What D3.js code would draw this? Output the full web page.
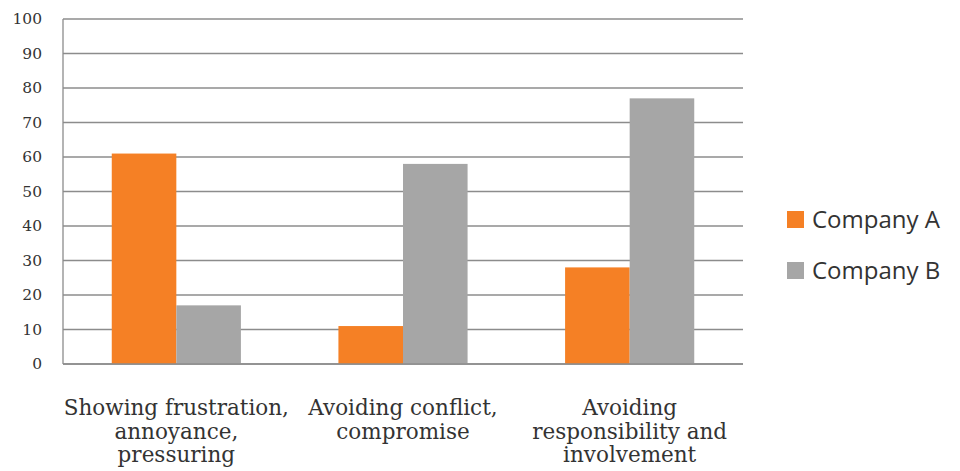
<!DOCTYPE html>
<head>
  <meta charset="utf-8">
  <script src="https://cdnjs.cloudflare.com/ajax/libs/d3/7.8.5/d3.min.js"></script>
</head>

<style>
body {
  margin: 0;
  background-color: #fff;
}
.tick-label {
  font-family: 'DejaVu Serif', serif;
  font-size: 15.5px;
  fill: #333;
}
.cat-label {
  font-family: 'DejaVu Serif', serif;
  font-size: 21.5px;
  fill: #333;
}
.legend-label {
  font-family: 'Open Sans', 'Noto Sans', sans-serif;
  font-size: 24px;
  fill: #333;
}
</style>

<body>
  <svg id='chart' width='960' height='471'></svg>
</body>

<script>

var categories = [
  ['Showing frustration,', 'annoyance,', 'pressuring'],
  ['Avoiding conflict,', 'compromise'],
  ['Avoiding', 'responsibility and', 'involvement']
];
var series = ['Company A', 'Company B'];
var company_a = [61, 11, 28];
var company_b = [17, 58, 77];
var y_ticks = [0, 10, 20, 30, 40, 50, 60, 70, 80, 90, 100];
var colours = ['#f58025', '#a6a6a6'];

var svg = d3.select('#chart');

var plot_left = 63, plot_right = 743, plot_top = 19, plot_bottom = 364;

var x0 = d3.scaleBand()
  .domain(d3.range(categories.length))
  .range([plot_left, plot_right])
  .padding(0);

// bars take ~57% of each category, gap ~150% of a bar
var x1 = d3.scaleBand()
  .domain(d3.range(series.length))
  .range([0, x0.bandwidth()])
  .paddingOuter(0.755)
  .paddingInner(0);

var y = d3.scaleLinear()
  .domain([0, 100])
  .range([plot_bottom, plot_top]);

// gridlines
svg.append('g')
  .selectAll('line')
  .data(y_ticks)
  .enter().append('line')
    .attr('x1', plot_left)
    .attr('x2', plot_right)
    .attr('y1', function(d){ return y(d) })
    .attr('y2', function(d){ return y(d) })
    .attr('stroke', '#8c8c8c')
    .attr('stroke-width', 1.3);

// y axis line
svg.append('line')
  .attr('x1', plot_left).attr('x2', plot_left)
  .attr('y1', y(0)).attr('y2', y(100))
  .attr('stroke', '#8c8c8c')
  .attr('stroke-width', 1.3);

svg.append('g')
  .selectAll('text')
  .data(y_ticks)
  .enter().append('text')
    .attr('class', 'tick-label')
    .attr('x', 42)
    .attr('y', function(d){ return y(d) })
    .attr('dy', '0.35em')
    .attr('text-anchor', 'end')
    .text(function(d){ return d });

var values = [company_a, company_b];

var groups = svg.append('g')
  .selectAll('g')
  .data(categories)
  .enter().append('g')
    .attr('transform', function(d, i){ return 'translate(' + x0(i) + ',0)' });

groups.selectAll('rect')
  .data(function(d, i){ return values.map(function(v, s){ return {s: s, v: v[i]} }) })
  .enter().append('rect')
    .attr('x', function(d){ return x1(d.s) })
    .attr('width', x1.bandwidth())
    .attr('y', function(d){ return y(d.v) })
    .attr('height', function(d){ return y(0) - y(d.v) })
    .attr('fill', function(d){ return colours[d.s] });

// redraw baseline over bars
svg.append('line')
  .attr('x1', plot_left).attr('x2', plot_right)
  .attr('y1', y(0)).attr('y2', y(0))
  .attr('stroke', '#8c8c8c')
  .attr('stroke-width', 1.5);

groups.append('text')
  .attr('class', 'cat-label')
  .attr('text-anchor', 'middle')
  .selectAll('tspan')
  .data(function(d){ return d })
  .enter().append('tspan')
    .attr('x', x0.bandwidth() / 2)
    .attr('y', function(d, j){ return 415 + j * 23.5 })
    .text(function(d){ return d });

var legend = svg.append('g')
  .selectAll('g')
  .data(series)
  .enter().append('g')
    .attr('transform', function(d, i){ return 'translate(787,' + (211 + i * 51) + ')' });

legend.append('rect')
  .attr('width', 17)
  .attr('height', 17)
  .attr('fill', function(d, i){ return colours[i] });

legend.append('text')
  .attr('class', 'legend-label')
  .attr('x', 25)
  .attr('y', 17)
  .text(function(d){ return d });

</script>
